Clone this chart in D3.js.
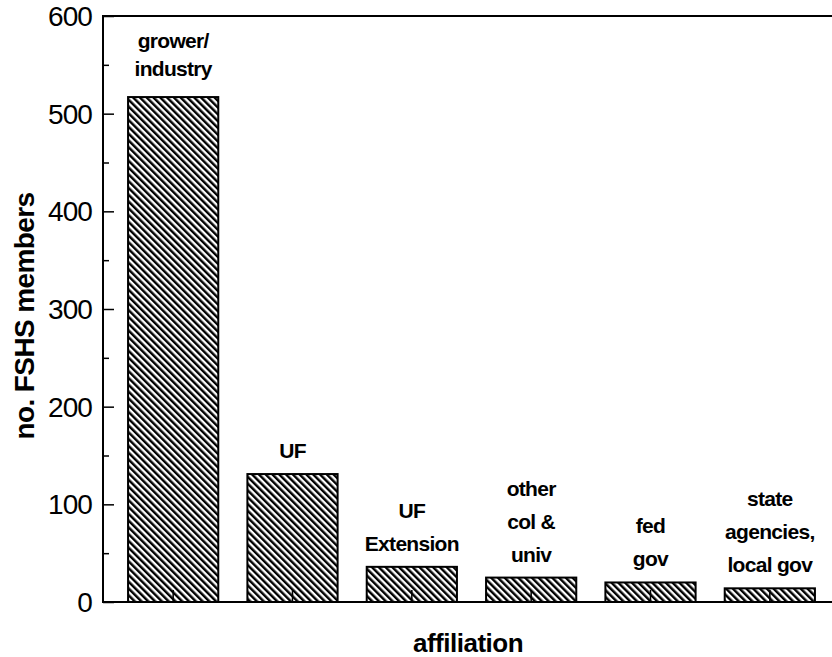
<!DOCTYPE html>
<html>
<head>
<meta charset="utf-8">
<script src="https://cdn.jsdelivr.net/npm/d3@7"></script>
<style>
    body { margin: 0; background: #fff; }
    svg { display: block; }
    text { font-family: "Liberation Sans", Arial, sans-serif; fill: #000; }
</style>
</head>
<body>
<div id="chart"></div>
<script>
var categories = ["grower/industry", "UF", "UF Extension", "other col & univ", "fed gov", "state agencies, local gov"];
var members = [517, 131, 36, 25, 20, 14];
var barLabels = [
    ["grower/", "industry"],
    ["UF"],
    ["UF", "Extension"],
    ["other", "col &", "univ"],
    ["fed", "gov"],
    ["state", "agencies,", "local gov"]
];
var yTicks = [0, 100, 200, 300, 400, 500, 600];
var yMinor = [50, 150, 250, 350, 450, 550];

// note: "top" is taken by window.top, so plot edges get their own names
var width = 832,
    height = 657,
    plotLeft = 103,
    plotTop = 16,
    plotBottom = 602,
    plotRight = 840;

var svg = d3.select("#chart").append("svg")
    .attr("width", width)
    .attr("height", height);

// diagonal hatch fill
svg.append("defs").append("pattern")
    .attr("id", "hatch")
    .attr("patternUnits", "userSpaceOnUse")
    .attr("width", 4.8)
    .attr("height", 4.8)
    .attr("patternTransform", "rotate(-45)")
    .append("line")
    .attr("x1", 1.2).attr("y1", 0)
    .attr("x2", 1.2).attr("y2", 4.8)
    .attr("stroke", "#000")
    .attr("stroke-width", 2.5);

var x = d3.scaleBand()
    .domain(categories)
    .range([plotLeft, plotRight])
    .paddingInner(0.244)
    .paddingOuter(0.21);

var y = d3.scaleLinear()
    .domain([0, 600])
    .range([plotBottom, plotTop]);

// bars
svg.selectAll(".bar")
    .data(members)
    .enter()
    .append("rect")
    .attr("class", "bar")
    .attr("x", function (d, i) { return x(categories[i]); })
    .attr("y", function (d) { return y(d); })
    .attr("width", x.bandwidth())
    .attr("height", function (d) { return y(0) - y(d); })
    .attr("fill", "url(#hatch)")
    .attr("stroke", "#000")
    .attr("stroke-width", 2);

// frame (right side falls outside the window)
svg.append("rect")
    .attr("x", plotLeft)
    .attr("y", plotTop)
    .attr("width", plotRight - plotLeft)
    .attr("height", plotBottom - plotTop)
    .attr("fill", "none")
    .attr("stroke", "#000")
    .attr("stroke-width", 2);

// y axis: ticks point inward
svg.append("g")
    .attr("transform", "translate(" + plotLeft + ",0)")
    .call(d3.axisRight(y).tickValues(yTicks).tickSize(11).tickFormat(""))
    .call(function (g) { g.select(".domain").remove(); })
    .selectAll("line").attr("stroke-width", 1.5);

svg.append("g")
    .attr("transform", "translate(" + plotLeft + ",0)")
    .call(d3.axisRight(y).tickValues(yMinor).tickSize(6).tickFormat(""))
    .call(function (g) { g.select(".domain").remove(); })
    .selectAll("line").attr("stroke-width", 1.5);

svg.selectAll(".ylab")
    .data(yTicks)
    .enter()
    .append("text")
    .attr("class", "ylab")
    .attr("x", plotLeft - 11)
    .attr("y", function (d) { return y(d); })
    .attr("dy", "0.36em")
    .attr("text-anchor", "end")
    .style("font-size", "28px")
    .style("letter-spacing", "-0.9px")
    .text(function (d) { return d; });

// x axis ticks at bar centres, pointing up
svg.append("g")
    .attr("transform", "translate(0," + plotBottom + ")")
    .call(d3.axisTop(x).tickSize(12).tickFormat(""))
    .call(function (g) { g.select(".domain").remove(); })
    .selectAll("line").attr("stroke-width", 1.5);

// labels above bars
svg.selectAll(".blab")
    .data(members)
    .enter()
    .append("text")
    .attr("class", "blab")
    .attr("text-anchor", "middle")
    .style("font-size", "21px")
    .style("font-weight", "bold")
    .style("letter-spacing", "-0.7px")
    .each(function (d, i) {
        var lines = barLabels[i],
            cx = x(categories[i]) + x.bandwidth() / 2,
            step = lines.length > 1 && i === 0 ? 28 : 33,
            base = y(d) - 16 - (lines.length - 1) * step;
        if (i === 0) base -= 5;
        d3.select(this).selectAll("tspan")
            .data(lines)
            .enter()
            .append("tspan")
            .attr("x", cx)
            .attr("y", function (t, j) { return base + j * step; })
            .text(function (t) { return t; });
    });

// axis titles
svg.append("text")
    .attr("transform", "translate(34,316) rotate(-90)")
    .attr("text-anchor", "middle")
    .style("font-size", "28px")
    .style("font-weight", "bold")
    .style("letter-spacing", "-0.6px")
    .text("no. FSHS members");

svg.append("text")
    .attr("x", 468)
    .attr("y", 652)
    .attr("text-anchor", "middle")
    .style("font-size", "26px")
    .style("font-weight", "bold")
    .style("letter-spacing", "-0.5px")
    .text("affiliation");
</script>
</body>
</html>
